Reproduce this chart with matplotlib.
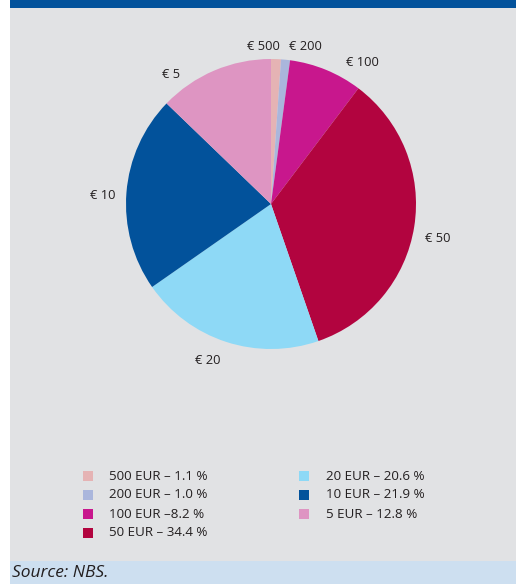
import matplotlib
matplotlib.use("Agg")
import matplotlib.pyplot as plt
from matplotlib.patches import Rectangle

denoms = ["€ 500", "€ 200", "€ 100", "€ 50", "€ 20", "€ 10", "€ 5"]
shares = [1.1, 1.0, 8.2, 34.4, 20.6, 21.9, 12.8]
colors = ["#e5b3b4", "#aab6dc", "#c8178d", "#b2043f", "#8ed9f6", "#02529b", "#de95c2"]
legend_labels = ["500 EUR – 1.1 %", "200 EUR – 1.0 %", "100 EUR –8.2 %", "50 EUR – 34.4 %",
                 "20 EUR – 20.6 %", "10 EUR – 21.9 %", "5 EUR – 12.8 %"]
source_text = "Source: NBS."

W, H = 516, 584
fig = plt.figure(figsize=(W / 100, H / 100), dpi=100)
fig.patch.set_facecolor("white")

def px(x, y):
    return x / W, 1 - y / H

# background panels
bg = fig.add_axes([0, 0, 1, 1], zorder=0)
bg.set_xlim(0, W); bg.set_ylim(H, 0); bg.axis("off")
bg.add_patch(Rectangle((10, 0), W - 10, 8, color="#02529b", lw=0))
bg.add_patch(Rectangle((10, 8), W - 10, 553, color="#e1e2e4", lw=0))
bg.add_patch(Rectangle((10, 561), W - 10, 23, color="#cddff0", lw=0))

font = "Open Sans"

# pie
cx, cy, r = 271, 204, 145
ax = fig.add_axes([(cx - r) / W, 1 - (cy + r) / H, 2 * r / W, 2 * r / H], zorder=1)
ax.pie(shares, colors=colors, startangle=90, counterclock=False,
       wedgeprops=dict(linewidth=0))
ax.set_xlim(-1, 1); ax.set_ylim(-1, 1)
ax.set_aspect("equal")
ax.axis("off")

# slice labels (pixel positions)
label_pos = [(263, 46), (305, 46), (362, 63), (438, 238), (208, 361), (103, 195), (171, 75)]
for lab, (x, y) in zip(denoms, label_pos):
    fig.text(*px(x, y), lab, ha="center", va="center", fontsize=9.3,
             family=font, color="#231f20")

# legend
rows = [476, 495, 514, 533]
for i, (lab, c) in enumerate(zip(legend_labels, colors)):
    col = 0 if i < 4 else 1
    row = i if i < 4 else i - 4
    sx = 84 if col == 0 else 300
    tx = 109 if col == 0 else 326
    y = rows[row]
    bg.add_patch(Rectangle((sx - 1, y - 5), 10, 10, color=c, lw=0))
    fig.text(*px(tx, y), lab, ha="left", va="center", fontsize=9.6,
             family=font, color="#231f20")

fig.text(*px(12, 573), source_text, ha="left", va="center", fontsize=12.5,
         family=font, style="italic", color="#231f20")

fig.savefig("out.png", dpi=100)
